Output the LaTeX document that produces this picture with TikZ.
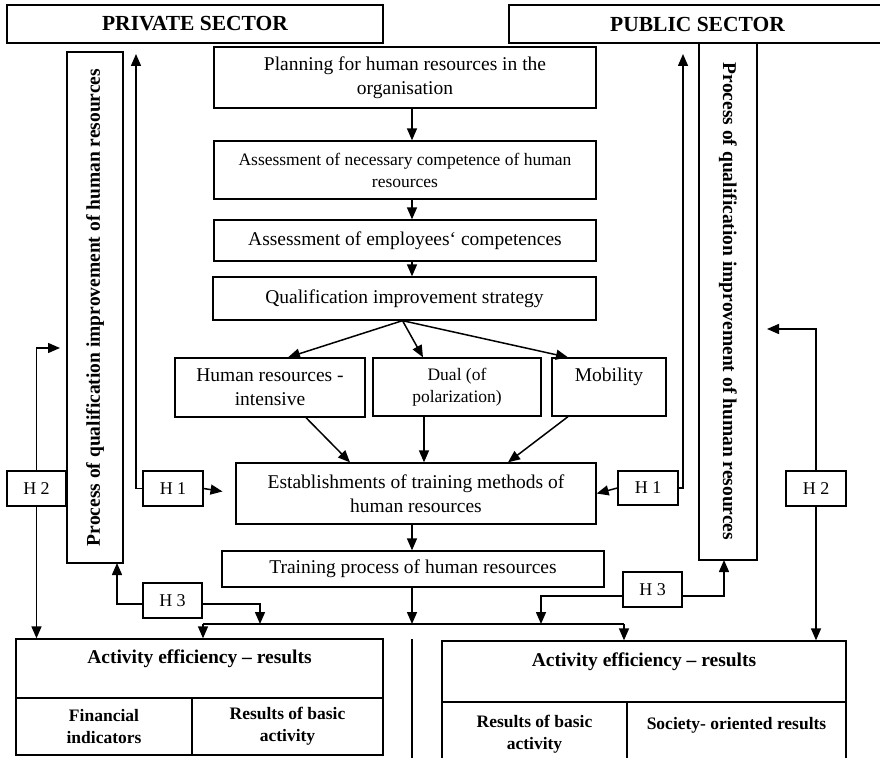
\documentclass[tikz,border=0pt]{standalone}
\usepackage{fontspec}
\setmainfont{Liberation Serif}
\usetikzlibrary{arrows.meta,calc}
\begin{document}
\begin{tikzpicture}[x=1pt,y=-1pt,
  box/.style={draw, line width=1.3pt, rectangle, inner sep=0pt, align=center, font=\fontsize{19.5}{24}\selectfont},
  small/.style={font=\fontsize{17.5}{22}\selectfont},
  hbox/.style={box, font=\fontsize{18}{22}\selectfont},
  head/.style={font=\fontsize{21.5}{26}\selectfont\bfseries},
  bold/.style={font=\fontsize{19.5}{24}\selectfont\bfseries},
  boldsmall/.style={font=\fontsize{17.5}{22}\selectfont\bfseries},
  ln/.style={line width=1.5pt},
  arr/.style={line width=1.5pt, -{Triangle[length=12pt,width=10pt]}}]
\useasboundingbox (0,0) rectangle (880,757);

% headers
\node[box, head, minimum width=376pt, minimum height=38pt] (priv) at (195,24) {PRIVATE SECTOR};
\node[box, head, minimum width=377pt, minimum height=38pt] (pub) at (697.5,24) {PUBLIC SECTOR};

% side process boxes
\node[box, minimum width=56pt, minimum height=511pt] (lproc) at (95,307.5) {};
\node[bold, rotate=90] (lproctxt) at (lproc.center) {Process of qualification improvement of human resources};
\node[box, minimum width=58pt, minimum height=517pt] (rproc) at (728,301.5) {};
\node[bold, rotate=-90] (rproctxt) at (rproc.center) {Process of qualification improvement of human resources};

% main flow
\node[box, minimum width=382pt, minimum height=61pt] (plan) at (405,77.5) {Planning for human resources in the\\organisation};
\node[box, small, minimum width=382pt, minimum height=58pt] (anec) at (405,170) {Assessment of necessary competence of human\\resources};
\node[box, minimum width=382pt, minimum height=41pt] (aemp) at (405,240.5) {Assessment of employees‘ competences};
\node[box, minimum width=383pt, minimum height=43pt] (qis) at (404.5,298.5) {Qualification improvement strategy};
\node[box, minimum width=190pt, minimum height=59pt] (hri) at (270,387.5) {Human resources -\\intensive};
\node[box, small, minimum width=168pt, minimum height=58pt] (dual) at (457,387) {Dual (of\\polarization)};
\node[box, minimum width=114pt, minimum height=58pt] (mob) at (609,387) {Mobility\\\mbox{}};
\node[box, minimum width=360pt, minimum height=61pt] (est) at (416,493.5) {Establishments of training methods of\\human resources};
\node[box, minimum width=382pt, minimum height=36pt] (train) at (413,569) {Training process of human resources};

% H boxes
\node[hbox, minimum width=60pt, minimum height=35pt] (h1l) at (173,488.5) {H 1};
\node[hbox, minimum width=60pt, minimum height=34pt] (h1r) at (648,488) {H 1};
\node[hbox, minimum width=59pt, minimum height=35pt] (h2l) at (36.5,488.5) {H 2};
\node[hbox, minimum width=60pt, minimum height=35pt] (h2r) at (816,488.5) {H 2};
\node[hbox, minimum width=59pt, minimum height=35pt] (h3l) at (172.5,600.5) {H 3};
\node[hbox, minimum width=59pt, minimum height=35pt] (h3r) at (652.5,589.5) {H 3};

% results
\node[box, bold, minimum width=367pt, minimum height=59pt] (lact) at (199.5,668.5) {Activity efficiency – results\\\mbox{}};
\node[box, boldsmall, minimum width=176pt, minimum height=57pt] (lfin) at (104,726.5) {Financial\\indicators};
\node[box, boldsmall, minimum width=191pt, minimum height=57pt] (lres) at (287.5,726.5) {Results of basic\\activity};
\node[box, bold, minimum width=404pt, minimum height=61pt] (ract) at (644,671.5) {Activity efficiency – results\\\mbox{}};
\node[box, boldsmall, minimum width=185pt, minimum height=64pt] (rres) at (534.5,734) {Results of basic\\activity};
\node[box, boldsmall, minimum width=219pt, minimum height=64pt] (rsoc) at (736.5,734) {Society- oriented results\\\mbox{}};

% coordinates
\coordinate (cx) at (412,0);
\coordinate (h1ltop) at (136,54);
\coordinate (h1rtop) at (683,54);
\coordinate (h2lend) at (60,348);
\coordinate (h2rend) at (767,329);
\coordinate (busL) at (203,624);
\coordinate (busR) at (624,624);
\coordinate (h3lup) at (117,563);
\coordinate (h3ldn) at (260,624);
\coordinate (h3rdn) at (541,624);
\coordinate (h3rup) at (724,560);
\coordinate (divT) at (412,639);
\coordinate (divB) at (412,762);

% main flow arrows
\draw[arr] (plan.south -| cx) -- (anec.north -| cx);
\draw[arr] (anec.south -| cx) -- (aemp.north -| cx);
\draw[arr] (aemp.south -| cx) -- (qis.north -| cx);
\draw[arr] ($(qis.south)+(-2,0)$) -- ($(hri.north)+(18,0)$);
\draw[arr] ($(qis.south)+(-2,0)$) -- ($(dual.north)+(-34,0)$);
\draw[arr] ($(qis.south)+(-2,0)$) -- ($(mob.north)+(-41,0)$);
\draw[arr] ($(hri.south)+(36,0)$) -- ($(est.north)+(-66,0)$);
\draw[arr] ($(dual.south)+(-33,0)$) -- ($(est.north)+(8,0)$);
\draw[arr] ($(mob.south)+(-41,0)$) -- ($(est.north)+(92,0)$);
\draw[arr] (est.south -| cx) -- (train.north -| cx);

% H1
\draw[arr, shorten >=13pt] (h1l.east) -- (est.west);
\draw[arr] (h1l.west) -| (h1ltop);
\draw[arr] (h1r.west) -- (est.east);
\draw[arr] (h1r.east) -| (h1rtop);

% H2
\draw[arr] (h2l.north) |- (h2lend);
\draw[arr] (h2l.south) -- (h2l.south |- lact.north);
\draw[arr] (h2r.north) |- (h2rend);
\draw[arr] (h2r.south) -- (h2r.south |- ract.north);

% bus
\draw[ln] (busL) -- (busR);
\draw[arr] (busL) -- (busL |- lact.north);
\draw[arr] (busR) -- (busR |- ract.north);
\draw[arr] (train.south -| cx) -- (busL -| cx);

% H3
\draw[arr] ($(h3l.west)+(0,3.5)$) -| (h3lup);
\draw[arr] ($(h3l.east)+(0,3.5)$) -| (h3ldn);
\draw[arr] ($(h3r.west)+(0,6.5)$) -| (h3rdn);
\draw[arr] ($(h3r.east)+(0,6.5)$) -| (h3rup);

% divider
\draw[ln] (divT) -- (divB);
\end{tikzpicture}
\end{document}
